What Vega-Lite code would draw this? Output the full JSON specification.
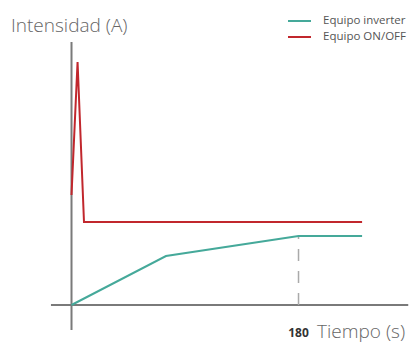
{
  "$schema": "https://vega.github.io/schema/vega-lite/v6.json",
  "width": 409,
  "height": 345,
  "autosize": {"type": "none"},
  "padding": 0,
  "background": "white",
  "config": {"view": {"stroke": null}, "font": "Open Sans"},
  "datasets": {
    "axes": [
      {"x": -16.3, "x2": 267, "y": 0, "y2": 0},
      {"x": 0, "x2": 0, "y": -25, "y2": 263}
    ],
    "guide": [{"x": 180, "y": 0, "y2": 69}],
    "series": [
      {"serie": "Equipo ON/OFF", "t": 0, "i": 110, "o": 0},
      {"serie": "Equipo ON/OFF", "t": 4.8, "i": 243, "o": 1},
      {"serie": "Equipo ON/OFF", "t": 9.9, "i": 83, "o": 2},
      {"serie": "Equipo ON/OFF", "t": 230.4, "i": 83, "o": 3},
      {"serie": "Equipo inverter", "t": 0, "i": 0, "o": 0},
      {"serie": "Equipo inverter", "t": 74.9, "i": 49, "o": 1},
      {"serie": "Equipo inverter", "t": 180, "i": 69, "o": 2},
      {"serie": "Equipo inverter", "t": 230.4, "i": 69, "o": 3}
    ],
    "ytitle": [{"label": "Intensidad (A)", "x": -48, "y": 273}],
    "tick": [{"label": "180", "x": 180, "y": -32}],
    "xtitle": [{"label": "Tiempo (s)", "x": 194.7, "y": -33}]
  },
  "encoding": {
    "x": {"type": "quantitative", "scale": {"domain": [-56.7, 267.6], "nice": false, "zero": false}, "axis": null},
    "y": {"type": "quantitative", "scale": {"domain": [-40, 305], "nice": false, "zero": false}, "axis": null}
  },
  "layer": [
    {
      "data": {"name": "axes"},
      "mark": {"type": "rule", "color": "#7a7a7a", "strokeWidth": 2},
      "encoding": {
        "x": {"field": "x", "type": "quantitative"},
        "x2": {"field": "x2"},
        "y": {"field": "y", "type": "quantitative"},
        "y2": {"field": "y2"}
      }
    },
    {
      "data": {"name": "guide"},
      "mark": {"type": "rule", "color": "#aaaaaa", "strokeWidth": 1.5, "strokeDash": [12, 10]},
      "encoding": {
        "x": {"field": "x", "type": "quantitative"},
        "y": {"field": "y", "type": "quantitative"},
        "y2": {"field": "y2"}
      }
    },
    {
      "data": {"name": "series"},
      "mark": {"type": "line", "strokeWidth": 2},
      "encoding": {
        "x": {"field": "t", "type": "quantitative"},
        "y": {"field": "i", "type": "quantitative"},
        "order": {"field": "o"},
        "color": {
          "field": "serie",
          "type": "nominal",
          "scale": {"domain": ["Equipo inverter", "Equipo ON/OFF"], "range": ["#45a99a", "#c1272d"]},
          "legend": {
            "title": null,
            "orient": "none",
            "legendX": 287,
            "legendY": 14,
            "symbolType": "stroke",
            "symbolSize": 529,
            "symbolStrokeWidth": 2,
            "labelFontSize": 11.5,
            "labelColor": "#555555",
            "labelOffset": 11,
            "clipHeight": 14,
            "rowPadding": 2,
            "padding": 0
          }
        }
      }
    },
    {
      "data": {"name": "ytitle"},
      "mark": {"type": "text", "align": "left", "baseline": "alphabetic", "fontSize": 19, "fontWeight": 300, "color": "#666666"},
      "encoding": {
        "x": {"field": "x", "type": "quantitative"},
        "y": {"field": "y", "type": "quantitative"},
        "text": {"field": "label"}
      }
    },
    {
      "data": {"name": "tick"},
      "mark": {"type": "text", "align": "center", "baseline": "alphabetic", "fontSize": 12, "fontWeight": "bold", "color": "#333333"},
      "encoding": {
        "x": {"field": "x", "type": "quantitative"},
        "y": {"field": "y", "type": "quantitative"},
        "text": {"field": "label"}
      }
    },
    {
      "data": {"name": "xtitle"},
      "mark": {"type": "text", "align": "left", "baseline": "alphabetic", "fontSize": 19, "fontWeight": 300, "color": "#666666"},
      "encoding": {
        "x": {"field": "x", "type": "quantitative"},
        "y": {"field": "y", "type": "quantitative"},
        "text": {"field": "label"}
      }
    }
  ]
}
